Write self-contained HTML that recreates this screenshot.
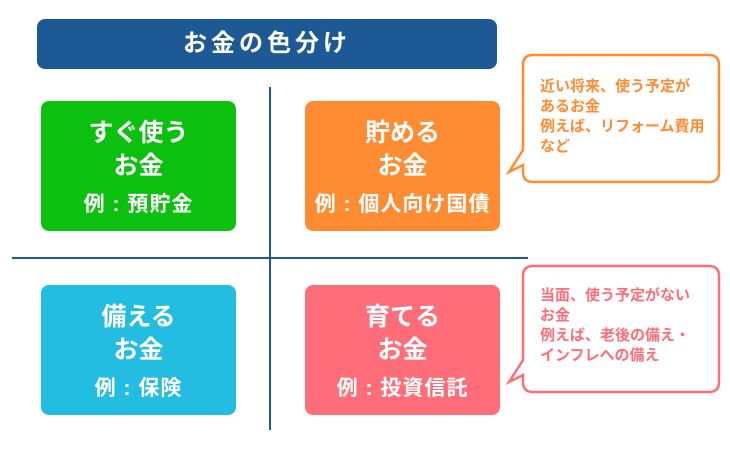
<!DOCTYPE html>
<html><head><meta charset="utf-8"><style>
body{margin:0;width:730px;height:450px;background:#fff;position:relative;overflow:hidden;font-family:"Liberation Sans","Noto Sans CJK JP",sans-serif}
.a{position:absolute}
.title{left:37px;top:19px;width:460px;height:50px;background:#1d5a95;border-radius:8px;color:#fff;font-size:24px;letter-spacing:4px;font-weight:bold;text-align:center;line-height:50px}
.box{border-radius:8px;color:#fff;text-align:center;width:195px;height:130px;font-weight:bold}
.box .m{position:absolute;left:0;right:0;top:16px;font-size:25px;line-height:33px}
.box .e{position:absolute;left:0;right:0;top:89px;font-size:21px;line-height:30px;white-space:nowrap;letter-spacing:1px}
.bub{font-size:15px;line-height:20px;font-weight:bold;padding:22px 0 0 17px;box-sizing:border-box;white-space:nowrap}
</style></head><body>
<div class="a title">お金の色分け</div>
<div class="a" style="left:269px;top:87px;width:2px;height:343px;background:#1d5a95"></div>
<div class="a" style="left:12px;top:257px;width:516px;height:2px;background:#1d5a95"></div>
<div class="a box" style="left:41px;top:101px;background:#0cc00f"><div class="m">すぐ使う<br>お金</div><div class="e">例 : 預貯金</div></div>
<div class="a box" style="left:305px;top:101px;background:#ff8c33"><div class="m">貯める<br>お金</div><div class="e">例 : 個人向け国債</div></div>
<div class="a box" style="left:41px;top:285px;background:#22bde0"><div class="m">備える<br>お金</div><div class="e">例 : 保険</div></div>
<div class="a box" style="left:305px;top:285px;background:#ff6e78"><div class="m">育てる<br>お金</div><div class="e">例 : 投資信託</div></div>
<svg class="a" style="left:0;top:0" width="730" height="450">
<path d="M533,55 H709 Q719,55 719,65 V172 Q719,182 709,182 H533 Q523,182 523,172 V165 L509,172 L523,150 V65 Q523,55 533,55 Z" fill="#fff" stroke="#ff8c33" stroke-width="2.5"/>
<path d="M533,266 H709 Q719,266 719,276 V382 Q719,392 709,392 H533 Q523,392 523,382 V375 L509,382 L523,360 V276 Q523,266 533,266 Z" fill="#fff" stroke="#ff6e78" stroke-width="2.5"/>
</svg>
<div class="a bub" style="left:523px;top:55px;width:196px;height:127px;color:#ff8c33;padding-top:22px">近い将来、使う予定が<br>あるお金<br>例えば、リフォーム費用<br>など</div>
<div class="a bub" style="left:523px;top:266px;width:196px;height:127px;color:#ff6e78;padding-top:20px">当面、使う予定がない<br>お金<br>例えば、老後の備え・<br>インフレへの備え</div>
</body></html>
